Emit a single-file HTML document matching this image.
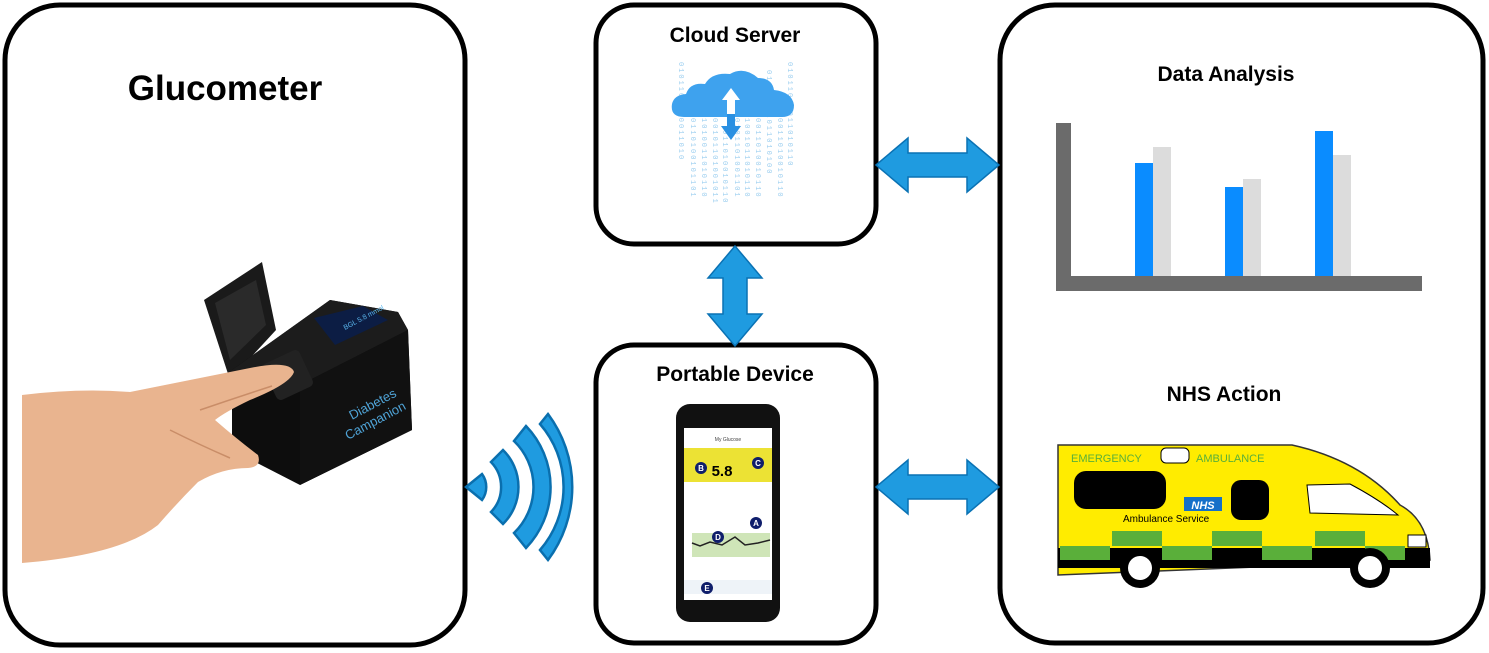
<!DOCTYPE html>
<html><head><meta charset="utf-8"><style>
html,body{margin:0;padding:0;background:#fff}
svg{display:block;font-family:"Liberation Sans",Arial,sans-serif}
</style></head><body>
<svg width="1489" height="653" viewBox="0 0 1489 653" xmlns="http://www.w3.org/2000/svg">
<defs>
<g id="harr"><polygon points="0,0 32,-27 32,-12 91,-12 91,-27 123,0 91,27 91,12 32,12 32,27" fill="#1f9be0" stroke="#0a72b4" stroke-width="1.5"/></g>
</defs>
<rect x="5" y="5" width="460" height="640" rx="55" fill="#fff" stroke="#000" stroke-width="5"/>
<rect x="596" y="5" width="280" height="239" rx="38" fill="#fff" stroke="#000" stroke-width="5"/>
<rect x="596" y="345" width="280" height="298" rx="38" fill="#fff" stroke="#000" stroke-width="5"/>
<rect x="1000" y="5" width="483" height="638" rx="55" fill="#fff" stroke="#000" stroke-width="5"/>

<text x="225" y="100" font-size="35" font-weight="bold" text-anchor="middle">Glucometer</text>
<text x="735" y="42" font-size="21" font-weight="bold" text-anchor="middle">Cloud Server</text>
<text x="735" y="381" font-size="21" font-weight="bold" text-anchor="middle">Portable Device</text>
<text x="1226" y="81" font-size="21" font-weight="bold" text-anchor="middle">Data Analysis</text>
<text x="1224" y="401" font-size="21" font-weight="bold" text-anchor="middle">NHS Action</text>

<use href="#harr" x="876" y="165"/>
<use href="#harr" x="876" y="487"/>
<g transform="translate(735,246)"><polygon points="0,0 -27,32 -12,32 -12,68 -27,68 0,100 27,68 12,68 12,32 27,32" fill="#1f9be0" stroke="#0a72b4" stroke-width="1.5"/></g>

<g fill="#1f9be0" stroke="#0a6fae" stroke-width="2.5">
<path d="M466,487 L482,474 A22,22 0 0 1 482,500 Z"/>
<path d="M491,462 A36,36 0 0 1 491,512 L503,524 A52,52 0 0 0 503,450 Z"/>
<path d="M514,441 A64,64 0 0 1 514,533 L526,548 A88,88 0 0 0 526,426 Z"/>
<path d="M540,424 A96,96 0 0 1 540,550 L548,560 A122,122 0 0 0 548,414 Z"/>
</g>

<g font-family="Liberation Mono,monospace" font-size="7" fill="#9fd0f0" letter-spacing="2">
<text x="680" y="62" writing-mode="tb">0101101010011010</text>
<text x="692" y="118" writing-mode="tb">0110100101101</text>
<text x="703" y="118" writing-mode="tb">1010011010110</text>
<text x="714" y="118" writing-mode="tb">00101101001011</text>
<text x="724" y="130" writing-mode="tb">011010010110</text>
<text x="736" y="118" writing-mode="tb">0101101001101</text>
<text x="746" y="118" writing-mode="tb">1001011010110</text>
<text x="757" y="118" writing-mode="tb">0011010010110</text>
<text x="768" y="70" writing-mode="tb">01101001011010100</text>
<text x="779" y="118" writing-mode="tb">0011010010110</text>
<text x="789" y="62" writing-mode="tb">01011010011010110</text>
</g>
<path d="M684,117 Q670,117 672,104 Q674,95 686,94 Q690,82 705,84 Q712,72 730,74 Q744,66 758,78 Q772,78 774,90 Q792,92 794,105 Q794,117 782,117 Z" fill="#3ea2ee"/>
<polygon points="731,88 740,100 735,100 735,115 727,115 727,100 722,100" fill="#fff"/>
<polygon points="727,114 735,114 735,126 741,126 731,140 721,126 727,126" fill="#2a90e2"/>

<polygon points="204,300 262,262 276,330 230,380" fill="#1a1a1a"/>
<polygon points="215,303 256,280 266,325 230,360" fill="#2a2a2a"/>
<polygon points="232,370 330,300 398,312 408,330 412,430 300,485 232,450" fill="#0d0d0d"/>
<polygon points="232,370 330,300 398,312 408,330 300,385 232,372" fill="#1c1c1c"/>
<polygon points="300,385 408,330 412,430 300,485" fill="#111"/>
<polygon points="314,318 363,306 388,320 335,345" fill="#0c1d44"/>
<text x="345" y="330" font-size="7" fill="#5ab6ee" transform="rotate(-28 345 330)">BGL 5.8 mmol</text>
<text transform="translate(352,420) rotate(-28)" font-size="13" fill="#4fa3d6">Diabetes</text>
<text transform="translate(348,440) rotate(-28)" font-size="13" fill="#4fa3d6">Campanion</text>
<rect x="268" y="355" width="40" height="40" rx="5" fill="#222" transform="rotate(-25 288 375)"/>
<path d="M22,395 Q80,388 130,392 Q190,380 250,368 Q290,360 294,372 Q290,384 250,400 Q225,412 215,420 Q238,440 258,455 Q262,467 248,468 Q222,468 198,482 Q178,502 158,525 Q120,555 22,563 Z" fill="#e9b48f"/>
<path d="M200,410 Q235,398 272,386" stroke="#c98d68" stroke-width="1.5" fill="none"/>
<path d="M170,430 Q200,445 230,458" stroke="#c98d68" stroke-width="1.5" fill="none"/>

<rect x="676" y="404" width="104" height="218" rx="14" fill="#111"/>
<rect x="684" y="428" width="88" height="172" fill="#fff"/>
<rect x="684" y="448" width="88" height="34" fill="#ece234"/>
<text x="728" y="441" font-size="5" text-anchor="middle" fill="#444">My Glucose</text>
<text x="722" y="476" font-size="15" font-weight="bold" text-anchor="middle">5.8</text>
<rect x="692" y="533" width="78" height="24" fill="#cfe5b8"/>
<path d="M692,543 L700,546 L710,542 L722,545 L735,537 L745,545 L758,543 L770,540" stroke="#222" fill="none" stroke-width="1.5"/>
<rect x="684" y="580" width="88" height="14" fill="#eef3f8"/>
<g fill="#0f1e6b">
<circle cx="701" cy="468" r="6"/><circle cx="758" cy="463" r="6"/><circle cx="756" cy="523" r="6"/><circle cx="718" cy="537" r="6"/><circle cx="707" cy="588" r="6"/>
</g>
<g fill="#fff" font-size="8" font-weight="bold" text-anchor="middle">
<text x="701" y="471">B</text><text x="758" y="466">C</text><text x="756" y="526">A</text><text x="718" y="540">D</text><text x="707" y="591">E</text>
</g>

<rect x="1056" y="123" width="15" height="168" fill="#6b6b6b"/>
<rect x="1056" y="276" width="366" height="15" fill="#6b6b6b"/>
<rect x="1135" y="163" width="18" height="113" fill="#0a8cff"/>
<rect x="1153" y="147" width="18" height="129" fill="#dcdcdc"/>
<rect x="1225" y="187" width="18" height="89" fill="#0a8cff"/>
<rect x="1243" y="179" width="18" height="97" fill="#dcdcdc"/>
<rect x="1315" y="131" width="18" height="145" fill="#0a8cff"/>
<rect x="1333" y="155" width="18" height="121" fill="#dcdcdc"/>

<path d="M1058,445 L1292,445 Q1360,460 1400,505 Q1428,520 1430,560 L1058,575 Z" fill="#ffec00" stroke="#333" stroke-width="1.5"/>
<rect x="1058" y="548" width="372" height="20" fill="#000"/>
<g fill="#5aaf3a">
<rect x="1112" y="531" width="50" height="15"/><rect x="1212" y="531" width="50" height="15"/><rect x="1315" y="531" width="50" height="15"/>
<rect x="1060" y="546" width="50" height="14"/><rect x="1162" y="546" width="50" height="14"/><rect x="1262" y="546" width="50" height="14"/><rect x="1365" y="546" width="40" height="14"/>
</g>
<rect x="1074" y="471" width="92" height="38" rx="12" fill="#000"/>
<rect x="1231" y="480" width="38" height="40" rx="10" fill="#000"/>
<rect x="1161" y="448" width="28" height="15" rx="5" fill="#fff" stroke="#000"/>
<path d="M1307,485 L1350,484 Q1380,500 1398,515 L1310,513 Z" fill="#fff" stroke="#000"/>
<rect x="1408" y="535" width="18" height="12" fill="#fff" stroke="#000"/>
<text x="1071" y="462" font-size="11" fill="#5aaf3a">EMERGENCY</text>
<text x="1196" y="462" font-size="11" fill="#5aaf3a">AMBULANCE</text>
<rect x="1184" y="497" width="38" height="14" fill="#1570c9"/>
<text x="1203" y="509" font-size="11" font-weight="bold" font-style="italic" fill="#fff" text-anchor="middle">NHS</text>
<text x="1123" y="522" font-size="10" fill="#000">Ambulance Service</text>
<g fill="#000"><circle cx="1140" cy="568" r="20"/><circle cx="1370" cy="568" r="20"/></g>
<g fill="#fff"><circle cx="1140" cy="568" r="12"/><circle cx="1370" cy="568" r="12"/></g>
</svg>
</body></html>
